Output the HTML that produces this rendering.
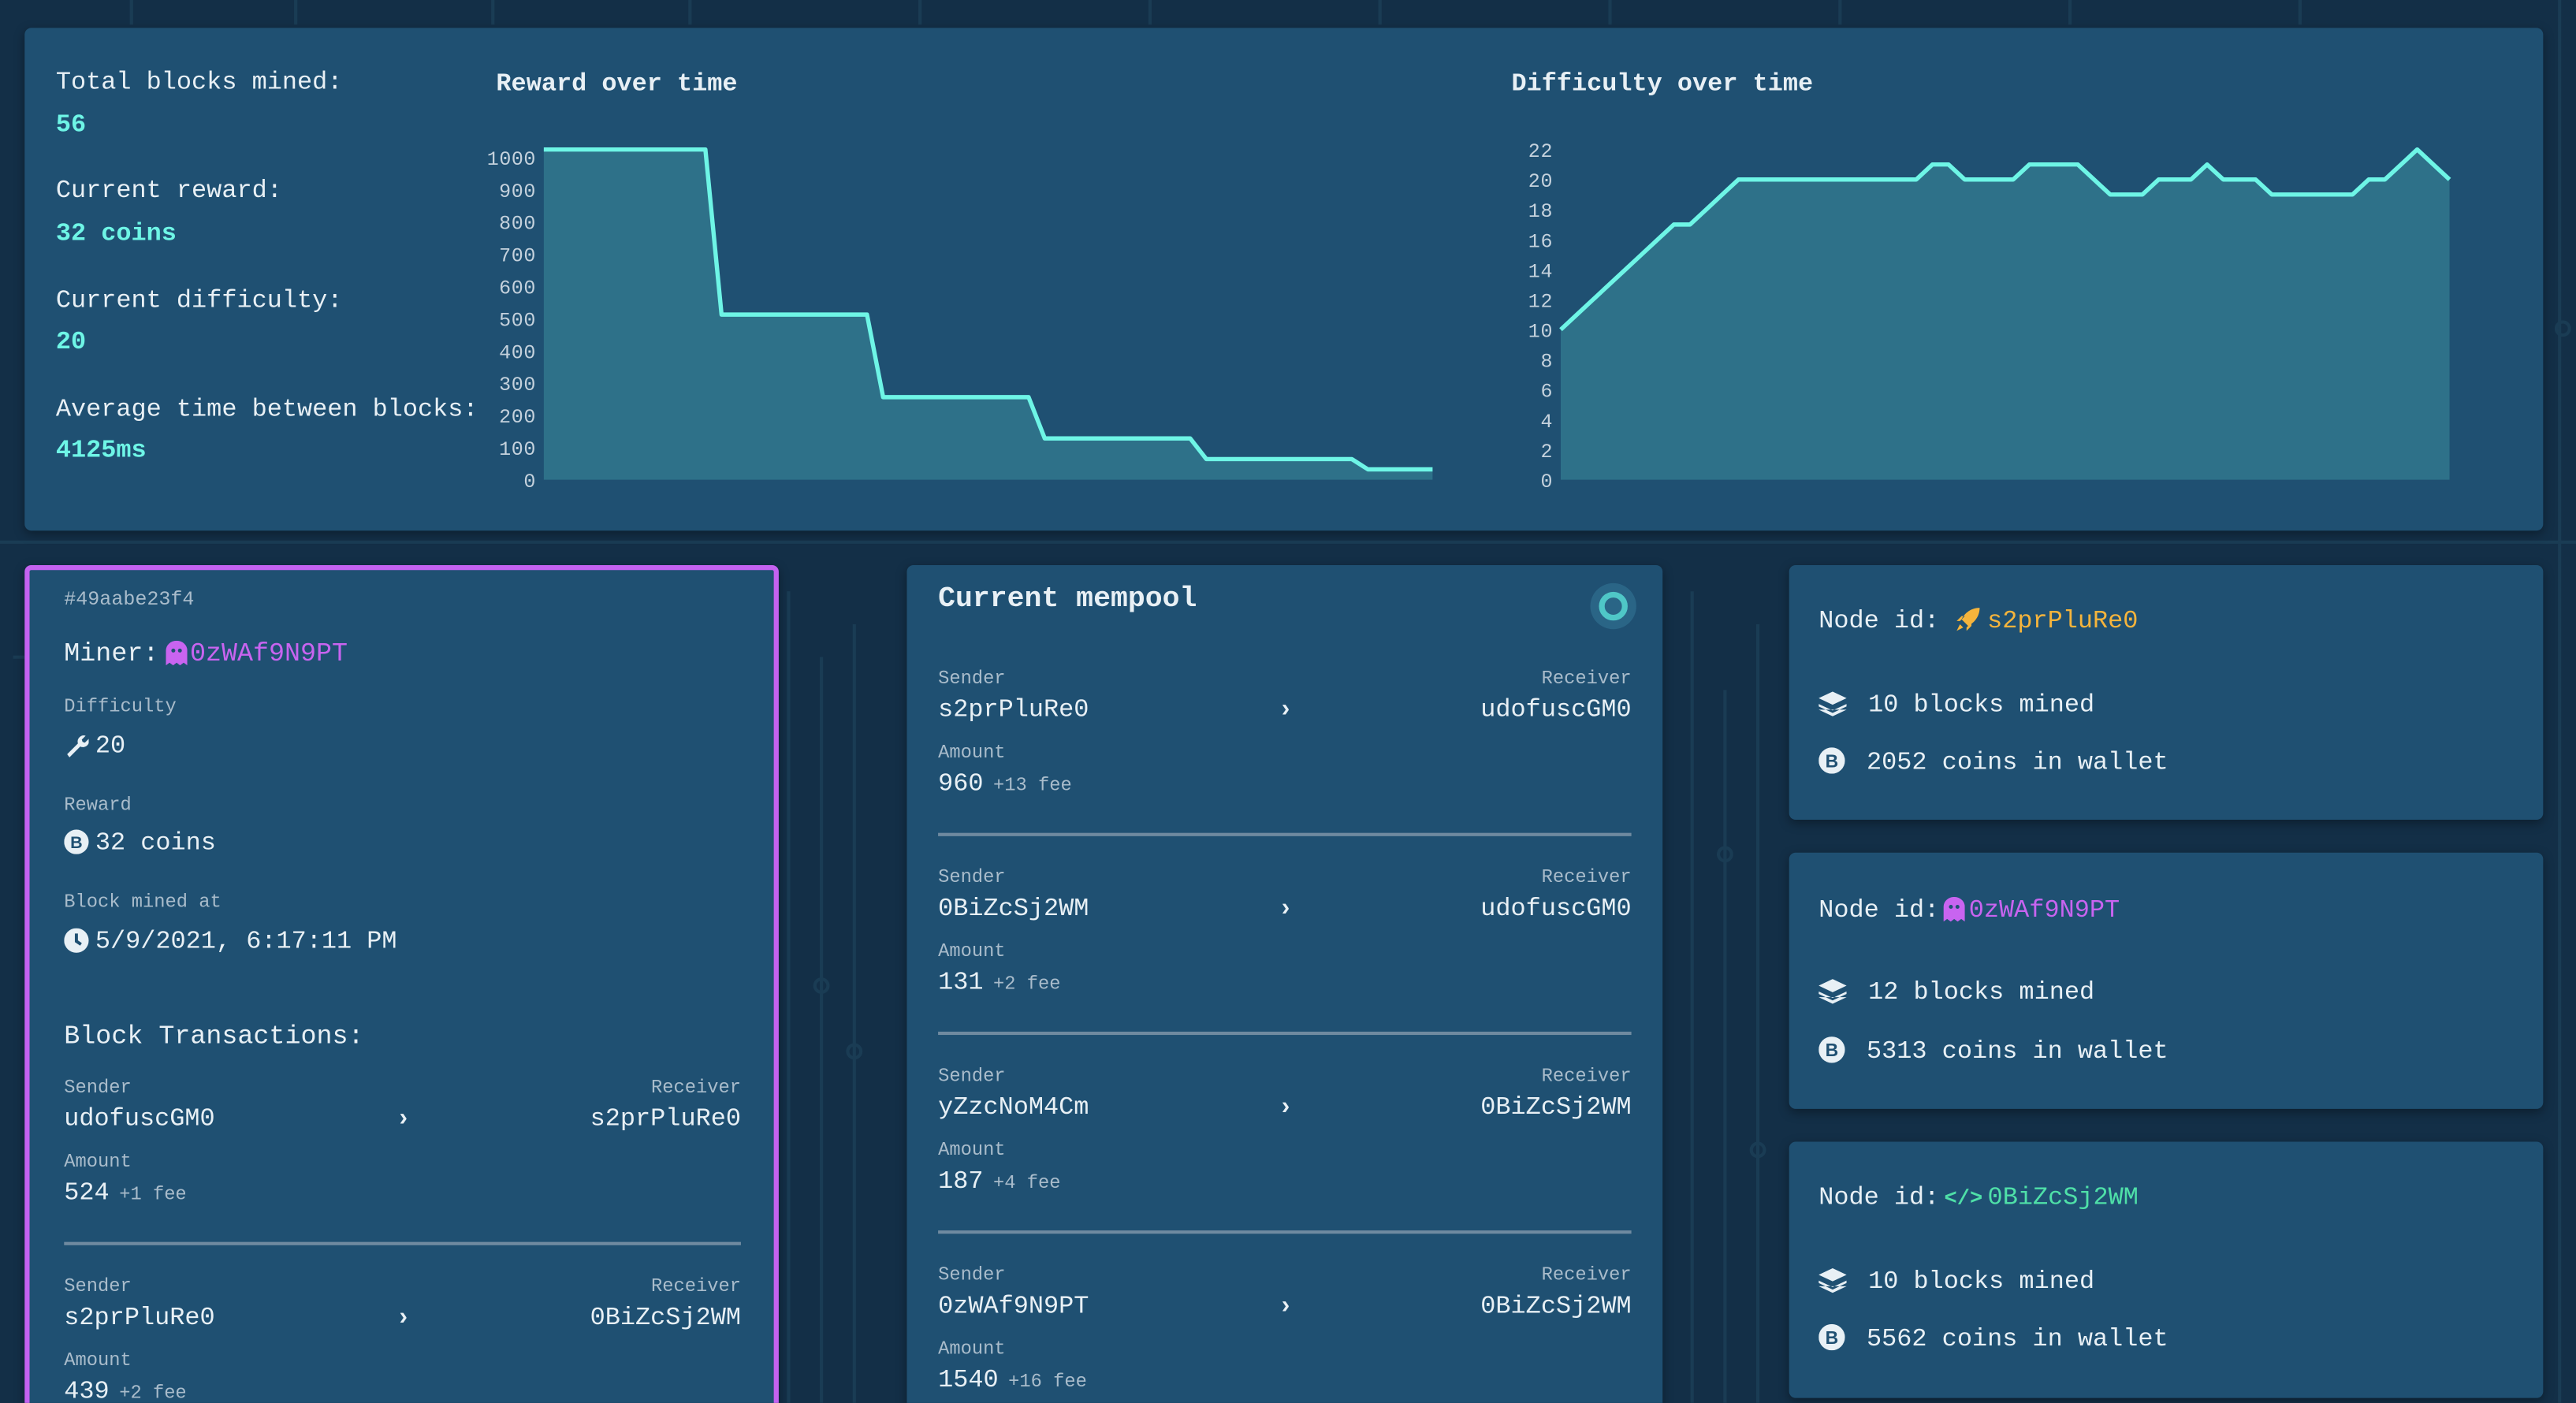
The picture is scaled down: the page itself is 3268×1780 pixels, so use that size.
<!DOCTYPE html>
<html><head><meta charset="utf-8">
<style>
html,body{margin:0;padding:0;width:3268px;height:1780px;overflow:hidden;background:#132f47;}
#root{position:absolute;left:0;top:0;width:1568px;height:854px;overflow:hidden;transform:scale(2.0842);transform-origin:0 0;font-family:"Liberation Mono",monospace;color:#e8f0f5;}
.card{position:absolute;background:#1f5072;border-radius:4px;box-shadow:0 2px 6px rgba(0,0,0,0.35);}
.a{position:absolute;white-space:nowrap;line-height:20px;}
.lbl{font-size:11.4px;color:#a9bccb;}
.val{font-size:15.3px;}
.fee{font-size:11.4px;color:#a9bccb;margin-left:6px;}
.cy{color:#6ef5e6;font-weight:bold;}
.sep{position:absolute;height:2px;background:#6f8aa0;}
.ic{display:inline-block;vertical-align:-3px;margin-right:4px;}
</style></head><body>
<div id="root">
<svg width="1568" height="854" style="position:absolute;left:0;top:0">
 <g stroke="#1d4058" stroke-width="2" fill="none" opacity="0.8">
  <path d="M0 330 H1568 M8 400 H15 M480 360 V854 M500 400 V854 M520 380 V854 M1030 360 V854 M1050 420 V854 M1070 380 V854"/>
  <circle cx="500" cy="600" r="4"/><circle cx="520" cy="640" r="4"/><circle cx="1050" cy="520" r="4"/><circle cx="1070" cy="700" r="4"/><circle cx="1560" cy="200" r="4"/>
  <path d="M80 0 V15 M180 0 V15 M300 0 V15 M420 0 V15 M560 0 V15 M700 0 V15 M840 0 V15 M980 0 V15 M1120 0 V15 M1260 0 V15 M1400 0 V15 M1558 0 V854"/>
 </g>
</svg>

<div class="card" style="left:15px;top:17px;width:1533px;height:306px"></div>
<div class="a val" style="left:34px;top:40px">Total blocks mined:</div>
<div class="a val cy" style="left:34px;top:66px">56</div>
<div class="a val" style="left:34px;top:106px">Current reward:</div>
<div class="a val cy" style="left:34px;top:132px">32 coins</div>
<div class="a val" style="left:34px;top:173px">Current difficulty:</div>
<div class="a val cy" style="left:34px;top:198px">20</div>
<div class="a val" style="left:34px;top:239px">Average time between blocks:</div>
<div class="a val cy" style="left:34px;top:264px">4125ms</div>
<div class="a val" style="left:302px;top:41px;font-weight:bold">Reward over time</div>
<div class="a val" style="left:920px;top:41px;font-weight:bold">Difficulty over time</div>
<svg id="charts" width="1568" height="330" style="position:absolute;left:0;top:0"></svg>

<!-- Block card -->
<div class="card" style="left:15px;top:344px;width:453px;height:520px;border:3px solid #c462f0;border-radius:4px"></div>
<div class="a" style="left:39px;top:355px;font-size:12px;color:#a9bccb">#49aabe23f4</div>
<div class="a val" style="left:39px;top:388px;font-size:16px">Miner:<svg class="ic" width="13" height="15" viewBox="0 0 13 15" style="margin-left:4px;margin-right:2px"><path d="M0 6a6.5 6 0 0 1 13 0V15l-2.2-1.6L8.6 15 6.5 13.4 4.4 15 2.2 13.4 0 15z" fill="#c864f0"/><circle cx="4.5" cy="6" r="1.2" fill="#1f5072"/><circle cx="8.5" cy="6" r="1.2" fill="#1f5072"/></svg><span style="color:#c864f0">0zWAf9N9PT</span></div>
<div class="a lbl" style="left:39px;top:421px">Difficulty</div>
<div class="a val" style="left:39px;top:444px"><svg class="ic" width="15" height="15" viewBox="0 0 16 16"><path d="M2 14 L9 7 A4 4 0 0 1 14 2 L11.5 4.5 L12 6 L13.5 6.5 L16 4 A4 4 0 0 1 10.5 9 L3.5 16 Z" fill="#e8f0f5"/></svg>20</div>
<div class="a lbl" style="left:39px;top:481px">Reward</div>
<div class="a val" style="left:39px;top:503px"><svg class="ic" width="15" height="15" viewBox="0 0 16 16"><circle cx="8" cy="8" r="8" fill="#e8f0f5"/><text x="8" y="12" font-size="11" text-anchor="middle" fill="#1f5072" font-weight="bold" font-family="Liberation Sans,sans-serif">B</text></svg>32 coins</div>
<div class="a lbl" style="left:39px;top:540px">Block mined at</div>
<div class="a val" style="left:39px;top:563px"><svg class="ic" width="15" height="15" viewBox="0 0 16 16"><circle cx="8" cy="8" r="8" fill="#e8f0f5"/><path d="M8 3.5V8.5L11 10.5" stroke="#1f5072" stroke-width="2" fill="none"/></svg>5/9/2021, 6:17:11 PM</div>
<div class="a val" style="left:39px;top:621px;font-size:16px">Block Transactions:</div>
<div id="blocktx"></div>

<!-- Mempool -->
<div class="card" style="left:552px;top:344px;width:460px;height:520px"></div>
<div class="a" style="left:571px;top:355px;font-size:17.5px;font-weight:bold">Current mempool</div>
<svg width="30" height="30" style="position:absolute;left:967px;top:354px"><circle cx="15" cy="15" r="14" fill="#2a6586"/><circle cx="15" cy="15" r="7" fill="none" stroke="#4fc7c7" stroke-width="3.5"/></svg>
<div id="mempooltx"></div>

<!-- Nodes -->
<div class="card" style="left:1089px;top:344px;width:459px;height:155px"></div>
<div class="a val" style="left:1107px;top:368px">Node id: <svg class="ic" width="16" height="16" viewBox="0 0 16 16"><path d="M15 1 C10 1 6 4 4 8 L8 12 C12 10 15 6 15 1Z M3 9 L1 9 L4 6 L6 6Z M7 13 L7 15 L10 12 L10 10Z M3 11 L5 13 L1 15Z" fill="#f5b43c"/></svg><span style="color:#f5b43c">s2prPluRe0</span></div>
<div class="a val" style="left:1107px;top:419px"><svg class="ic" width="17" height="15" viewBox="0 0 17 15"><path d="M8.5 0L17 4 8.5 8 0 4Z M0 7.5L8.5 11.5 17 7.5 17 9 8.5 13 0 9Z M0 11L8.5 15 17 11" fill="#e8f0f5"/></svg> 10 blocks mined</div>
<div class="a val" style="left:1107px;top:454px"><svg class="ic" width="16" height="16" viewBox="0 0 16 16"><circle cx="8" cy="8" r="8" fill="#e8f0f5"/><text x="8" y="12" font-size="11" text-anchor="middle" fill="#1f5072" font-weight="bold" font-family="Liberation Sans,sans-serif">B</text></svg> 2052 coins in wallet</div>

<div class="card" style="left:1089px;top:519px;width:459px;height:156px"></div>
<div class="a val" style="left:1107px;top:544px">Node id:<svg class="ic" width="13" height="15" viewBox="0 0 13 15" style="margin-left:3px;margin-right:2px"><path d="M0 6a6.5 6 0 0 1 13 0V15l-2.2-1.6L8.6 15 6.5 13.4 4.4 15 2.2 13.4 0 15z" fill="#c864f0"/><circle cx="4.5" cy="6" r="1.2" fill="#1f5072"/><circle cx="8.5" cy="6" r="1.2" fill="#1f5072"/></svg><span style="color:#c864f0">0zWAf9N9PT</span></div>
<div class="a val" style="left:1107px;top:594px"><svg class="ic" width="17" height="15" viewBox="0 0 17 15"><path d="M8.5 0L17 4 8.5 8 0 4Z M0 7.5L8.5 11.5 17 7.5 17 9 8.5 13 0 9Z M0 11L8.5 15 17 11" fill="#e8f0f5"/></svg> 12 blocks mined</div>
<div class="a val" style="left:1107px;top:630px"><svg class="ic" width="16" height="16" viewBox="0 0 16 16"><circle cx="8" cy="8" r="8" fill="#e8f0f5"/><text x="8" y="12" font-size="11" text-anchor="middle" fill="#1f5072" font-weight="bold" font-family="Liberation Sans,sans-serif">B</text></svg> 5313 coins in wallet</div>

<div class="card" style="left:1089px;top:695px;width:459px;height:156px"></div>
<div class="a val" style="left:1107px;top:719px">Node id:<span style="color:#4fe0a8;font-weight:bold;font-size:13px;margin:0 3px">&lt;/&gt;</span><span style="color:#4fe0a8">0BiZcSj2WM</span></div>
<div class="a val" style="left:1107px;top:770px"><svg class="ic" width="17" height="15" viewBox="0 0 17 15"><path d="M8.5 0L17 4 8.5 8 0 4Z M0 7.5L8.5 11.5 17 7.5 17 9 8.5 13 0 9Z M0 11L8.5 15 17 11" fill="#e8f0f5"/></svg> 10 blocks mined</div>
<div class="a val" style="left:1107px;top:805px"><svg class="ic" width="16" height="16" viewBox="0 0 16 16"><circle cx="8" cy="8" r="8" fill="#e8f0f5"/><text x="8" y="12" font-size="11" text-anchor="middle" fill="#1f5072" font-weight="bold" font-family="Liberation Sans,sans-serif">B</text></svg> 5562 coins in wallet</div>
</div>
<script>
// Chart data
const rewardValues = [1024,1024,1024,1024,1024,1024,1024,1024,1024,1024,1024,512,512,512,512,512,512,512,512,512,512,256,256,256,256,256,256,256,256,256,256,128,128,128,128,128,128,128,128,128,128,64,64,64,64,64,64,64,64,64,64,32,32,32,32,32];
const rewardTicks = [0,100,200,300,400,500,600,700,800,900,1000];
const difficultyValues = [10,11,12,13,14,15,16,17,17,18,19,20,20,20,20,20,20,20,20,20,20,20,20,21,21,20,20,20,20,21,21,21,21,20,19,19,19,20,20,20,21,20,20,20,19,19,19,19,19,19,20,20,21,22,21,20];
const difficultyTicks = [0,2,4,6,8,10,12,14,16,18,20,22];

const NS='http://www.w3.org/2000/svg';
const svg=document.getElementById('charts');
function drawChart(name,values,ticks,maxV,x0,x1,y0,y1){
  const xs=i=>x0+(x1-x0)*i/(values.length-1);
  const ys=v=>y0-(y0-y1)*v/maxV;
  const g=document.createElementNS(NS,'g');
  
  
  svg.appendChild(g);
  let d='';
  values.forEach((v,i)=>{d+=(i?'L':'M')+xs(i).toFixed(2)+' '+ys(v).toFixed(2);});
  const area=document.createElementNS(NS,'path');
  area.setAttribute('d',d+'L'+x1+' '+y0+'L'+x0+' '+y0+'Z');
  area.setAttribute('fill','#2e7189');
  
  
  g.appendChild(area);
  const line=document.createElementNS(NS,'path');
  line.setAttribute('d',d);
  line.setAttribute('fill','none');
  line.setAttribute('stroke','#6ef5e6');
  line.setAttribute('stroke-width','2.6');
  line.setAttribute('stroke-linejoin','round');
  
  
  g.appendChild(line);
  ticks.forEach(t=>{
    const tx=document.createElementNS(NS,'text');
    tx.setAttribute('x',x0-5);
    tx.setAttribute('y',ys(t)+4.5);
    tx.setAttribute('text-anchor','end');
    tx.setAttribute('font-size','12');
    tx.setAttribute('font-family','Liberation Mono, monospace');
    tx.setAttribute('fill','#c5d2dd');
    tx.setAttribute('textLength',String(t).length*7.4);
    
    
    tx.textContent=t;
    g.appendChild(tx);
  });
}
drawChart('reward-chart',rewardValues,rewardTicks,1024,331,872,292,91);
drawChart('difficulty-chart',difficultyValues,difficultyTicks,22,950,1491,292,91);

// transactions
const blockTx=[['udofuscGM0','s2prPluRe0','524','+1 fee'],['s2prPluRe0','0BiZcSj2WM','439','+2 fee']];
const memTx=[['s2prPluRe0','udofuscGM0','960','+13 fee'],['0BiZcSj2WM','udofuscGM0','131','+2 fee'],['yZzcNoM4Cm','0BiZcSj2WM','187','+4 fee'],['0zWAf9N9PT','0BiZcSj2WM','1540','+16 fee']];
function renderTx(container,list,left,right,arrowX,top){
  const root=document.getElementById('root');
  list.forEach((t,i)=>{
    const y=top+i*121;
    const items=[
      ['lbl','Sender',left,null,y],
      ['val',t[0],left,null,y+18],
      ['lbl','Receiver',null,right,y],
      ['val',t[1],null,right,y+18],
      ['lbl','Amount',left,null,y+45],
    ];
    items.forEach(it=>{
      const d=document.createElement('div');
      d.className='a '+it[0];
      d.style.top=(it[4]-10)+'px';
      if(it[2]!==null)d.style.left=it[2]+'px';else d.style.right=(1568-it[3])+'px';
      d.textContent=it[1];
      
      
      root.appendChild(d);
    });
    const amt=document.createElement('div');
    amt.className='a val';
    amt.style.left=left+'px';amt.style.top=(y+63-10)+'px';
    amt.innerHTML=t[2]+'<span class="fee">'+t[3]+'</span>';
    
    
    root.appendChild(amt);
    const ar=document.createElement('div');
    ar.className='a';
    ar.style.left=(arrowX-4)+'px';ar.style.top=(y+19-10)+'px';
    ar.style.fontWeight='bold';ar.style.fontSize='15px';
    ar.textContent='›';
    
    
    root.appendChild(ar);
    if(i<list.length-1){
      const sp=document.createElement('div');
      sp.className='sep';
      sp.style.left=left+'px';sp.style.width=(right-left)+'px';sp.style.top=(y+93)+'px';
      
      
      root.appendChild(sp);
    }
  });
}
renderTx('blocktx',blockTx,39,451,245,663);
renderTx('mempooltx',memTx,571,993,782,414);
</script>
</body></html>
